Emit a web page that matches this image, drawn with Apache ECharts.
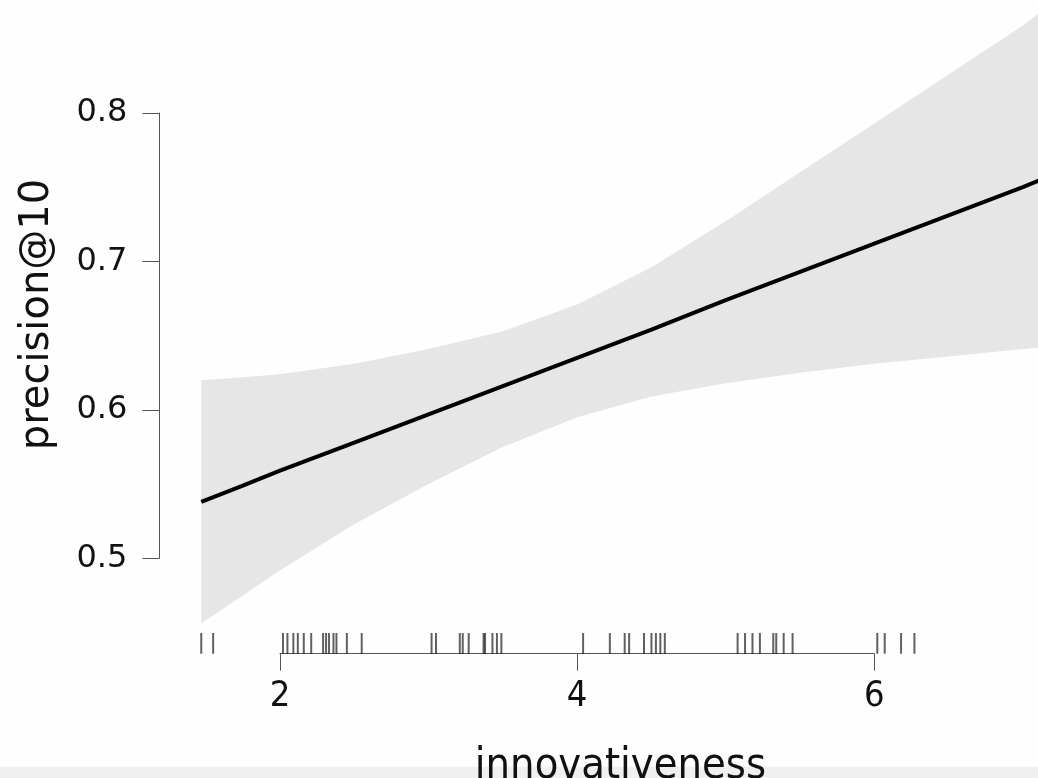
<!DOCTYPE html>
<html>
<head>
<meta charset="utf-8">
<script src="https://cdn.jsdelivr.net/npm/echarts@6/dist/echarts.min.js"></script>
<style>
  html, body { margin: 0; padding: 0; background: #fefefe; }
  #chart { width: 1038px; height: 778px; }
</style>
</head>
<body>
<div id="chart"></div>
<script>
// ---- data ----
const xValues   = [1.47, 1.75, 2, 2.5, 3, 3.5, 4, 4.5, 5, 5.5, 6, 6.5, 7, 7.12];
const fitValues = [0.538, 0.549, 0.559, 0.578, 0.597, 0.616, 0.635, 0.654, 0.674, 0.693, 0.712, 0.731, 0.750, 0.755];
const ciUpper   = [0.620, 0.622, 0.624, 0.631, 0.641, 0.653, 0.671, 0.696, 0.727, 0.760, 0.793, 0.826, 0.859, 0.868];
const ciLower   = [0.456, 0.475, 0.492, 0.523, 0.550, 0.575, 0.595, 0.609, 0.618, 0.625, 0.631, 0.636, 0.641, 0.642];
const rugValues = [1.47, 1.55, 2.02, 2.05, 2.09, 2.12, 2.16, 2.21, 2.29, 2.31, 2.33, 2.36, 2.38, 2.45, 2.55,
                   3.02, 3.05, 3.21, 3.23, 3.27, 3.37, 3.38, 3.43, 3.46, 3.49,
                   4.04, 4.22, 4.32, 4.35, 4.45, 4.50, 4.53, 4.56, 4.59,
                   5.08, 5.13, 5.18, 5.23, 5.32, 5.34, 5.39, 5.45,
                   6.02, 6.07, 6.18, 6.27];
const yTicks = [0.5, 0.6, 0.7, 0.8];
const xTicks = [2, 4, 6];
const xTitle = 'innovativeness';
const yTitle = 'precision@10';

// ---- layout (pixel frame of the reference) ----
const W = 1038;
const X2PX = 280, X6PX = 874.3;           // pixel positions of x = 2 and x = 6
const xScale = (X6PX - X2PX) / 4;         // px per x unit
const Y05PX = 558.3, Y08PX = 113;          // pixel positions of y = 0.5 and y = 0.8
const yScale = (Y05PX - Y08PX) / 0.3;     // px per y unit
const plotLeft = 200, plotTop = 0, plotBottom = 706.6;
const xMin = 2 - (X2PX - plotLeft) / xScale;
const xMax = 2 + (W - X2PX) / xScale;
const yMax = 0.5 + (Y05PX - plotTop) / yScale;
const yMin = 0.5 - (plotBottom - Y05PX) / yScale;

const chart = echarts.init(document.getElementById('chart'), null, { renderer: 'canvas' });

const condensed = '"DejaVu Sans Condensed", "Liberation Sans Narrow", "DejaVu Sans", sans-serif';

const option = {
  animation: false,
  backgroundColor: '#fefefe',
  grid: [
    { left: plotLeft, right: 0, top: plotTop, height: plotBottom - plotTop },
    { left: 159.3, width: 1, top: Y08PX, height: Y05PX - Y08PX },
    { left: X2PX, width: X6PX - X2PX, top: 640, height: 13.7 },
    { left: plotLeft, right: 0, top: 633, height: 20.7 }
  ],
  xAxis: [
    { gridIndex: 0, type: 'value', min: xMin, max: xMax, show: false },
    { gridIndex: 1, type: 'value', min: 0, max: 1, show: false },
    { gridIndex: 2, type: 'value', min: 2, max: 6, interval: 2,
      axisLine: { show: true, lineStyle: { color: '#555', width: 1 } },
      axisTick: { show: true, inside: false, length: 17, lineStyle: { color: '#555', width: 1 } },
      axisLabel: { show: true, margin: 25, fontSize: 36, color: '#111', fontFamily: condensed,
                   customValues: xTicks, formatter: v => String(v) },
      splitLine: { show: false } },
    { gridIndex: 3, type: 'value', min: xMin, max: xMax, show: false }
  ],
  yAxis: [
    { gridIndex: 0, type: 'value', min: yMin, max: yMax, show: false },
    { gridIndex: 1, type: 'value', min: 0.5, max: 0.8, interval: 0.1,
      axisLine: { show: true, lineStyle: { color: '#555', width: 1 } },
      axisTick: { show: true, inside: false, length: 17, lineStyle: { color: '#555', width: 1 } },
      axisLabel: { show: true, margin: 32, fontSize: 32, color: '#111', fontFamily: 'DejaVu Sans',
                   customValues: yTicks, formatter: v => v.toFixed(1) },
      splitLine: { show: false } },
    { gridIndex: 2, type: 'value', min: 0, max: 1, show: false },
    { gridIndex: 3, type: 'value', min: 0, max: 1, show: false }
  ],
  series: [
    {
      type: 'custom',
      xAxisIndex: 0, yAxisIndex: 0,
      data: [[xValues[0], ciLower[0]]],
      silent: true,
      z: 1,
      renderItem: function (params, api) {
        const pts = [];
        for (let i = 0; i < xValues.length; i++) pts.push(api.coord([xValues[i], ciUpper[i]]));
        for (let i = xValues.length - 1; i >= 0; i--) pts.push(api.coord([xValues[i], ciLower[i]]));
        return { type: 'polygon', shape: { points: pts }, style: { fill: '#e6e6e6', stroke: null } };
      }
    },
    {
      type: 'line',
      xAxisIndex: 0, yAxisIndex: 0,
      data: xValues.map((x, i) => [x, fitValues[i]]),
      symbol: 'none',
      clip: false,
      z: 3,
      lineStyle: { color: '#000', width: 4 }
    },
    {
      type: 'custom',
      xAxisIndex: 3, yAxisIndex: 3,
      data: rugValues.map(v => [v, 0]),
      silent: true,
      renderItem: function (params, api) {
        const x = api.value(0);
        const p0 = api.coord([x, 0]);
        const p1 = api.coord([x, 1]);
        return { type: 'line', shape: { x1: p0[0], y1: p0[1], x2: p1[0], y2: p1[1] },
                 style: { stroke: 'rgba(0,0,0,0.62)', lineWidth: 2 } };
      }
    }
  ],
  graphic: [
    { type: 'rect', z: -10, shape: { x: 0, y: 766.7, width: W, height: 12 },
      style: { fill: '#f0f0f0' } },
    { type: 'text', z: 10, x: 37.5, y: 314.5, rotation: Math.PI / 2,
      style: { text: yTitle, fontSize: 40, fontFamily: 'DejaVu Sans', fill: '#111',
               align: 'center', verticalAlign: 'middle' } },
    { type: 'text', z: 10, x: 620.5, y: 767,
      style: { text: xTitle, fontSize: 43, fontFamily: condensed, fill: '#111',
               align: 'center', verticalAlign: 'middle' } }
  ]
};
chart.setOption(option);
</script>
</body>
</html>
